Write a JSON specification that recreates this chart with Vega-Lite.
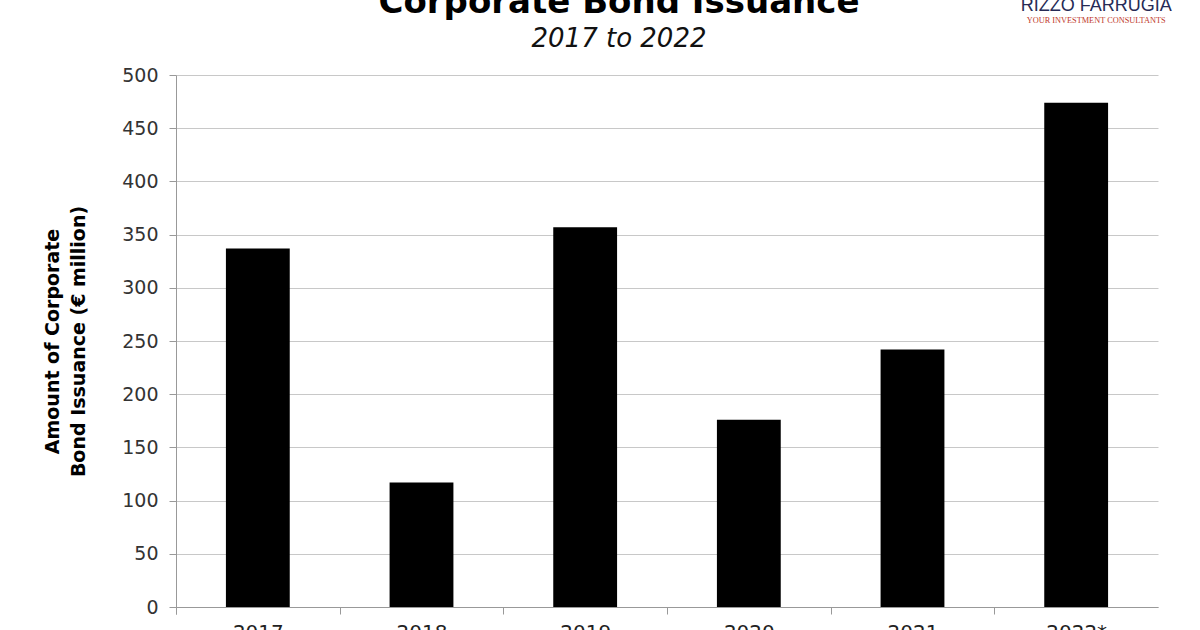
{
  "$schema": "https://vega.github.io/schema/vega-lite/v6.json",
  "width": 982,
  "height": 532,
  "autosize": {"type": "none"},
  "padding": {"left": 176, "top": 75, "right": 42, "bottom": 23},
  "background": "white",
  "config": {"font": "DejaVu Sans", "view": {"stroke": null}},
  "title": {
    "text": "Corporate Bond Issuance",
    "subtitle": "2017 to 2022",
    "fontSize": 34,
    "fontWeight": "bold",
    "color": "#000000",
    "subtitleFontSize": 26,
    "subtitleFontStyle": "italic",
    "subtitleColor": "#111111",
    "subtitlePadding": 6,
    "anchor": "middle",
    "frame": "group",
    "dx": -48,
    "offset": -55
  },
  "layer": [
    {
      "data": {"values": [
        {"year": "2017", "amount": 337},
        {"year": "2018", "amount": 117},
        {"year": "2019", "amount": 357},
        {"year": "2020", "amount": 176},
        {"year": "2021", "amount": 242},
        {"year": "2022*", "amount": 474}
      ]},
      "mark": {"type": "bar", "color": "#000000"},
      "encoding": {
        "x": {
          "field": "year", "type": "nominal", "sort": null,
          "scale": {"paddingInner": 0.61, "paddingOuter": 0.305},
          "axis": {
            "title": null, "labelAngle": 0, "labelFontSize": 20, "labelColor": "#222222",
            "bandPosition": 0, "tickExtra": true, "tickOffset": -50, "labelOffset": 50,
            "tickSize": 7, "tickColor": "#999999",
            "domainColor": "#999999", "labelPadding": 8, "grid": false
          }
        },
        "y": {
          "field": "amount", "type": "quantitative",
          "scale": {"domain": [0, 500], "nice": false},
          "axis": {
            "values": [0, 50, 100, 150, 200, 250, 300, 350, 400, 450, 500],
            "grid": true, "gridColor": "#c8c8c8",
            "domainColor": "#999999", "tickColor": "#999999", "tickSize": 7,
            "labelPadding": 11, "labelFontSize": 19, "labelColor": "#333333",
            "title": ["Amount of Corporate", "Bond Issuance (€ million)"],
            "titleFontSize": 19, "titleFontWeight": "bold", "titleColor": "#000000",
            "titleLineHeight": 26, "titlePadding": 33
          }
        }
      }
    },
    {
      "data": {"values": [{"t": "RIZZO FARRUGIA"}]},
      "mark": {"type": "text", "font": "Liberation Sans", "fontSize": 18, "color": "#262a55", "align": "center", "baseline": "alphabetic", "dx": 20},
      "encoding": {
        "x": {"datum": "2022*", "type": "nominal"},
        "y": {"datum": 560, "type": "quantitative", "scale": {"domain": [0, 500], "nice": false}},
        "text": {"field": "t"}
      }
    },
    {
      "data": {"values": [{"t": "YOUR INVESTMENT CONSULTANTS"}]},
      "mark": {"type": "text", "font": "Liberation Serif", "fontSize": 8.3, "color": "#c0392b", "align": "center", "baseline": "alphabetic", "dx": 20},
      "encoding": {
        "x": {"datum": "2022*", "type": "nominal"},
        "y": {"datum": 549, "type": "quantitative", "scale": {"domain": [0, 500], "nice": false}},
        "text": {"field": "t"}
      }
    }
  ]
}
